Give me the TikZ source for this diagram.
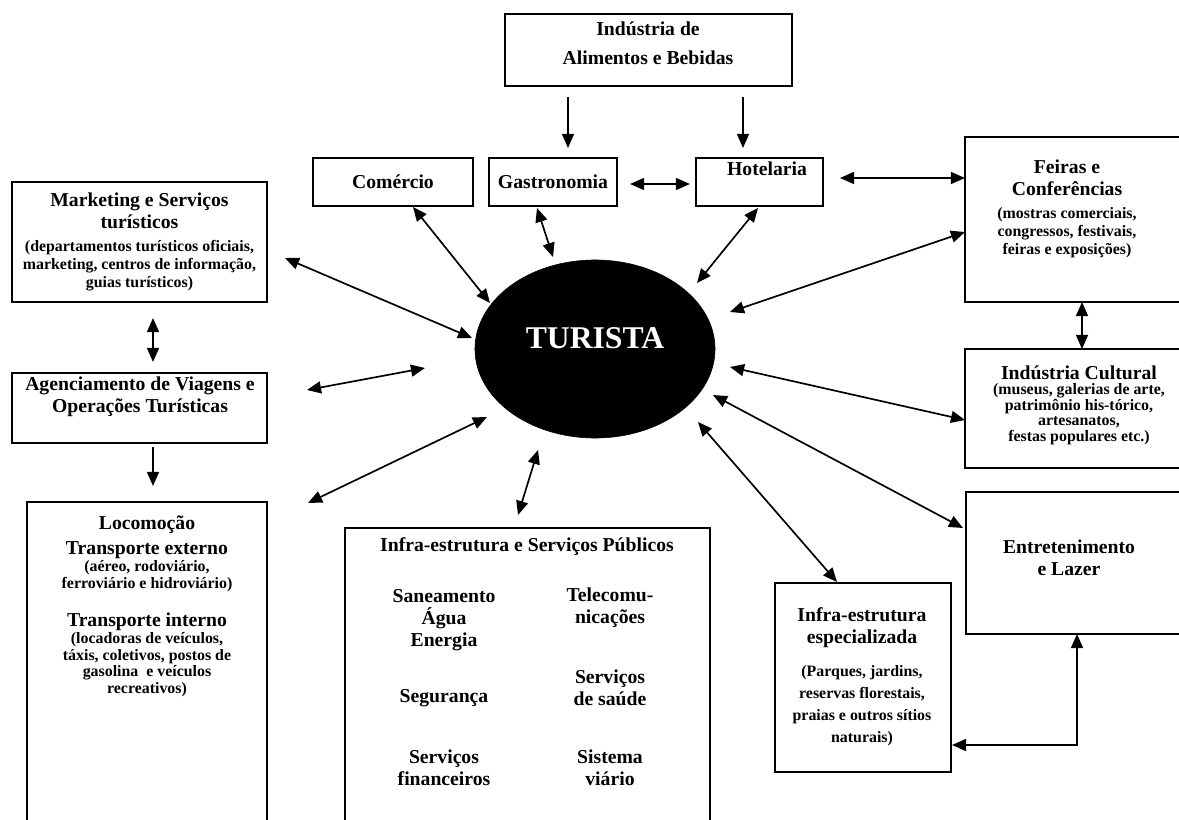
\documentclass[tikz,border=0pt]{standalone}
\usepackage{fontspec}
\setmainfont{Liberation Serif}
\usetikzlibrary{arrows.meta,shapes.geometric}
\newcommand{\mtxt}{\fontsize{14}{15.6}\selectfont}
\newcommand{\subtxt}{\fontsize{11.3}{12.5}\selectfont}
\tikzset{
	box/.style={draw,line width=1.2pt,inner sep=0pt},
	txt/.style={align=center,inner sep=0pt,font=\bfseries\mtxt},
	skip/.style={font=\bfseries\fontsize{14}{#1}\selectfont},
	dbl/.style={<->,>={Triangle[length=10pt,width=8.5pt]},line width=1.2pt},
	one/.style={->,>={Triangle[length=10pt,width=8.5pt]},line width=1.2pt}
}

\begin{document}
\begin{tikzpicture}[x=0.025cm,y=-0.025cm]
			\useasboundingbox (0,0) rectangle (1179,820);
			\node[box,minimum width=7.175cm,minimum height=1.8cm] (alim) at (648.5,50){};
			\node[txt] (alimtxt) at (648,43){Indústria de\\[5pt]Alimentos e Bebidas};
			\node[box,txt,minimum width=4cm,minimum height=1.2cm] (com) at (393,182){Comércio};
			\node[box,txt,minimum width=3.2cm,minimum height=1.2cm] (gas) at (553,182){Gastronomia};
			\node[box,minimum width=3.175cm,minimum height=1.2cm] (hot) at (759.5,182){};
			\node[txt] (hottxt) at (767,169){Hotelaria};
			\node[box,minimum width=5.5cm,minimum height=4.125cm] (fei) at (1075,219.5){};
			\node[txt,skip=13pt] (feitxt) at (1067,209){Feiras e\\[3pt]Conferências\\[3pt]\subtxt (mostras comerciais,\\\subtxt congressos, festivais,\\\subtxt feiras e exposições)};
			\node[box,minimum width=5.5cm,minimum height=2.975cm] (cul) at (1075,408.5){};
			\node[txt,skip=11pt] (cultxt) at (1079,405){Indústria Cultural\\\subtxt (museus, galerias de arte,\\\subtxt patrimônio his-tórico,\\\subtxt artesanatos,\\\subtxt festas populares etc.)};
			\node[box,minimum width=5.475cm,minimum height=3.55cm] (ent) at (1075.5,563){};
			\node[txt] (enttxt) at (1069,558){Entretenimento\\e Lazer};
			\node[box,minimum width=4.4cm,minimum height=4.725cm] (esp) at (863,677.5){};
			\node[txt] (esptxt) at (862,677){Infra-estrutura\\especializada\\[8pt]\subtxt (Parques, jardins,\\\subtxt reservas florestais,\\\subtxt praias e outros sítios\\\subtxt naturais)};
			\node[box,txt,skip=13pt,minimum width=6.375cm,minimum height=3cm] (mkt) at (139.5,242){Marketing e Serviços\\[3pt]turísticos\\[3pt]\subtxt (departamentos turísticos oficiais,\\\subtxt marketing, centros de informação,\\\subtxt guias turísticos)};
			\node[box,minimum width=6.375cm,minimum height=1.75cm] (age) at (139.5,408){};
			\node[txt] (agetxt) at (140,397){Agenciamento de Viagens e\\Operações Turísticas};
			\node[box,minimum width=6cm,minimum height=8.45cm] (loc) at (147,671){};
			\node[txt,skip=12pt,anchor=north] (loctxt) at (147,515){Locomoção\\[5pt]Transporte externo\\\subtxt (aéreo, rodoviário,\\\subtxt ferroviário e hidroviário)\\[14pt]Transporte interno\\\subtxt (locadoras de veículos,\\\subtxt táxis, coletivos, postos de\\\subtxt gasolina\ \ e veículos\\\subtxt recreativos)};
			\node[box,minimum width=9.125cm,minimum height=7.8cm] (pub) at (527.5,684){};
			\node[txt] (pubtxt) at (527,547){Infra-estrutura e Serviços Públicos};
			\node[txt] (san) at (444,620){Saneamento\\Água\\Energia};
			\node[txt] (seg) at (444,698){Segurança};
			\node[txt] (fin) at (444,767.5){Serviços\\financeiros};
			\node[txt] (tel) at (610,608){Telecomu-\\nicações};
			\node[txt] (sau) at (610,687.5){Serviços\\de saúde};
			\node[txt] (via) at (610,767.5){Sistema\\viário};
			\node[draw,ellipse,fill=black,minimum width=6cm,minimum height=4.45cm] (tur) at (595,349){};
			\node[txt,text=white,font=\bfseries\fontsize{22.5}{24}\selectfont] (turtxt) at (595,338){TURISTA};
			\coordinate (alimL) at (568,97);
			\coordinate (gasT) at (568,148);
			\coordinate (alimR) at (743,97);
			\coordinate (hotT) at (743,148);
			\coordinate (gasR) at (630,184);
			\coordinate (hotL) at (690,184);
			\coordinate (hotR) at (840,178);
			\coordinate (feiL) at (965,178);
			\coordinate (comB) at (413,207);
			\coordinate (turCom) at (490,303);
			\coordinate (gasB) at (537,208);
			\coordinate (turGas) at (553,257);
			\coordinate (hotB) at (758,208);
			\coordinate (turHot) at (697,283);
			\coordinate (mktR) at (285,258);
			\coordinate (turMkt) at (472,338);
			\coordinate (ageR) at (307,390);
			\coordinate (turAge) at (425,368);
			\coordinate (locR) at (308,503);
			\coordinate (turLoc) at (487,417);
			\coordinate (pubT) at (518,515);
			\coordinate (turPub) at (538,450);
			\coordinate (feiB) at (965,232);
			\coordinate (turFei) at (730,312);
			\coordinate (culL) at (965,420);
			\coordinate (turCul) at (730,367);
			\coordinate (entL) at (963,528);
			\coordinate (turEnt) at (713,395);
			\coordinate (espT) at (837,582);
			\coordinate (turEsp) at (698,422);
			\coordinate (feiS) at (1082,302);
			\coordinate (culN) at (1082,349);
			\coordinate (mktS) at (153,318);
			\coordinate (ageN) at (153,362);
			\coordinate (ageS) at (153,447);
			\coordinate (locN) at (153,486);
			\coordinate (espR) at (952,745);
			\coordinate (entB) at (1077,634);
			\draw (alimL) edge [one] (gasT);
			\draw (alimR) edge [one] (hotT);
			\draw (gasR) edge [dbl] (hotL);
			\draw (hotR) edge [dbl] (feiL);
			\draw (comB) edge [dbl] (turCom);
			\draw (gasB) edge [dbl] (turGas);
			\draw (hotB) edge [dbl] (turHot);
			\draw (mktR) edge [dbl] (turMkt);
			\draw (ageR) edge [dbl] (turAge);
			\draw (locR) edge [dbl] (turLoc);
			\draw (pubT) edge [dbl] (turPub);
			\draw (feiB) edge [dbl] (turFei);
			\draw (culL) edge [dbl] (turCul);
			\draw (entL) edge [dbl] (turEnt);
			\draw (espT) edge [dbl] (turEsp);
			\draw (feiS) edge [dbl] (culN);
			\draw (mktS) edge [dbl] (ageN);
			\draw (ageS) edge [one] (locN);
			\draw[dbl] (espR) -| (entB);
		\end{tikzpicture}
\end{document}
